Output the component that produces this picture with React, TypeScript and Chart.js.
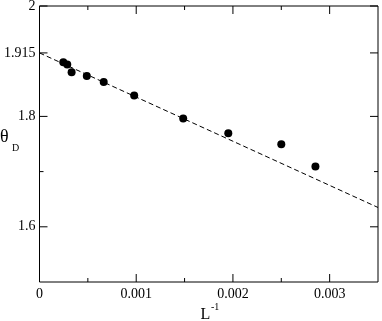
import React, { useEffect, useRef } from "react";
import { Chart, registerables } from "chart.js";

Chart.register(...registerables);

const invL = [0.000246, 0.000287, 0.000332, 0.000489, 0.000664, 0.000979, 0.001486, 0.001952, 0.0025, 0.002853];
const thetaD = [1.898, 1.894, 1.880, 1.873, 1.8625, 1.838, 1.796, 1.7695, 1.7496, 1.7093];
const fitX = [0, 0.0035];
const fitY = [1.915, 1.635];
const xMajor = [0, 0.001, 0.002, 0.003];
const xLabels = ["0", "0.001", "0.002", "0.003"];
const xMinor = [0.0005, 0.0015, 0.0025];
const yMajor = [1.6, 1.8, 1.915, 2];
const yLabels = ["1.6", "1.8", "1.915", "2"];
const yMinor = [1.7];

const FONT = "\"Times New Roman\", \"Liberation Serif\", \"DejaVu Serif\", serif";

const framePlugin = {
  id: "frame",
  afterDraw(chart: any) {
    const ctx = chart.ctx;
    const { left, right, top, bottom } = chart.chartArea;
    const xs = chart.scales.x;
    const ys = chart.scales.y;
    ctx.save();
    ctx.strokeStyle = "#000";
    ctx.lineWidth = 1;
    ctx.beginPath();
    ctx.rect(left, top, right - left, bottom - top);
    ctx.stroke();
    const major = 8;
    const minor = 4;
    ctx.beginPath();
    const vt = (v: number, len: number) => {
      const p = xs.getPixelForValue(v);
      ctx.moveTo(p, bottom);
      ctx.lineTo(p, bottom - len);
      ctx.moveTo(p, top);
      ctx.lineTo(p, top + len);
    };
    const ht = (v: number, len: number) => {
      const p = ys.getPixelForValue(v);
      ctx.moveTo(left, p);
      ctx.lineTo(left + len, p);
      ctx.moveTo(right, p);
      ctx.lineTo(right - len, p);
    };
    xMajor.forEach((v) => vt(v, major));
    xMinor.forEach((v) => vt(v, minor));
    yMajor.forEach((v) => ht(v, major));
    yMinor.forEach((v) => ht(v, minor));
    ctx.stroke();

    ctx.fillStyle = "#000";
    ctx.textBaseline = "alphabetic";
    ctx.textAlign = "left";
    ctx.font = `18px ${FONT}`;
    ctx.fillText("\u03b8", 0, 142);
    ctx.font = `10px ${FONT}`;
    ctx.fillText("D", 12, 150.5);
    ctx.font = `16px ${FONT}`;
    ctx.fillText("L", 200.5, 319);
    ctx.font = `10px ${FONT}`;
    ctx.fillText("-1", 211, 310);
    ctx.restore();
  },
};

export default function App() {
  const ref = useRef<HTMLCanvasElement>(null);
  useEffect(() => {
    if (!ref.current) return;
    let chart: any = null;
    let cancelled = false;
    const make = () => {
      if (cancelled || !ref.current) return;
      chart = new Chart(ref.current, {
        type: "scatter",
        data: {
          datasets: [
            {
              label: "fit",
              data: fitX.map((x, i) => ({ x, y: fitY[i] })),
              showLine: true,
              borderColor: "#000",
              borderWidth: 1,
              borderDash: [5, 3],
              pointRadius: 0,
              fill: false,
            },
            {
              label: "theta",
              data: invL.map((x, i) => ({ x, y: thetaD[i] })),
              backgroundColor: "#000",
              borderColor: "#000",
              borderWidth: 0,
              pointRadius: 4,
            },
          ],
        },
        options: {
          responsive: false,
          animation: false,
          layout: { padding: { top: 6, right: 2, left: 0.5, bottom: 0 } },
          plugins: { legend: { display: false }, tooltip: { enabled: false } },
          scales: {
            x: {
              type: "linear",
              min: 0,
              max: 0.0035,
              grid: { display: false, drawTicks: false },
              border: { display: false },
              afterFit: (s: any) => {
                s.height = 39;
                s.paddingLeft = 0;
                s.paddingRight = 0;
              },
              afterBuildTicks: (s: any) => {
                s.ticks = xMajor.map((v) => ({ value: v }));
              },
              ticks: {
                padding: 4,
                color: "#000",
                font: { family: FONT, size: 14 },
                maxRotation: 0,
                autoSkip: false,
                callback: (v: any) => {
                  const i = xMajor.findIndex((m) => Math.abs(m - v) < 1e-9);
                  return i >= 0 ? xLabels[i] : "";
                },
              },
            },
            y: {
              type: "linear",
              min: 1.5,
              max: 2,
              grid: { display: false, drawTicks: false },
              border: { display: false },
              afterFit: (s: any) => {
                s.width = 39;
                s.paddingTop = 0;
                s.paddingBottom = 0;
              },
              afterBuildTicks: (s: any) => {
                s.ticks = yMajor.map((v) => ({ value: v }));
              },
              ticks: {
                padding: 4,
                color: "#000",
                font: { family: FONT, size: 14 },
                autoSkip: false,
                callback: (v: any) => {
                  const i = yMajor.findIndex((m) => Math.abs(m - v) < 1e-9);
                  return i >= 0 ? yLabels[i] : "";
                },
              },
            },
          },
        },
        plugins: [framePlugin],
      });
    };
    const fonts: any = (document as any).fonts;
    if (fonts && fonts.load) {
      Promise.all([fonts.load(`14px ${FONT}`), fonts.load(`18px ${FONT}`, "\u03b8")])
        .catch(() => null)
        .then(make);
    } else {
      make();
    }
    return () => {
      cancelled = true;
      if (chart) chart.destroy();
    };
  }, []);
  return (
    <div style={{ position: "absolute", left: 0, top: 0, width: 382, height: 321, background: "#fff" }}>
      <canvas ref={ref} width={382} height={321} />
    </div>
  );
}
